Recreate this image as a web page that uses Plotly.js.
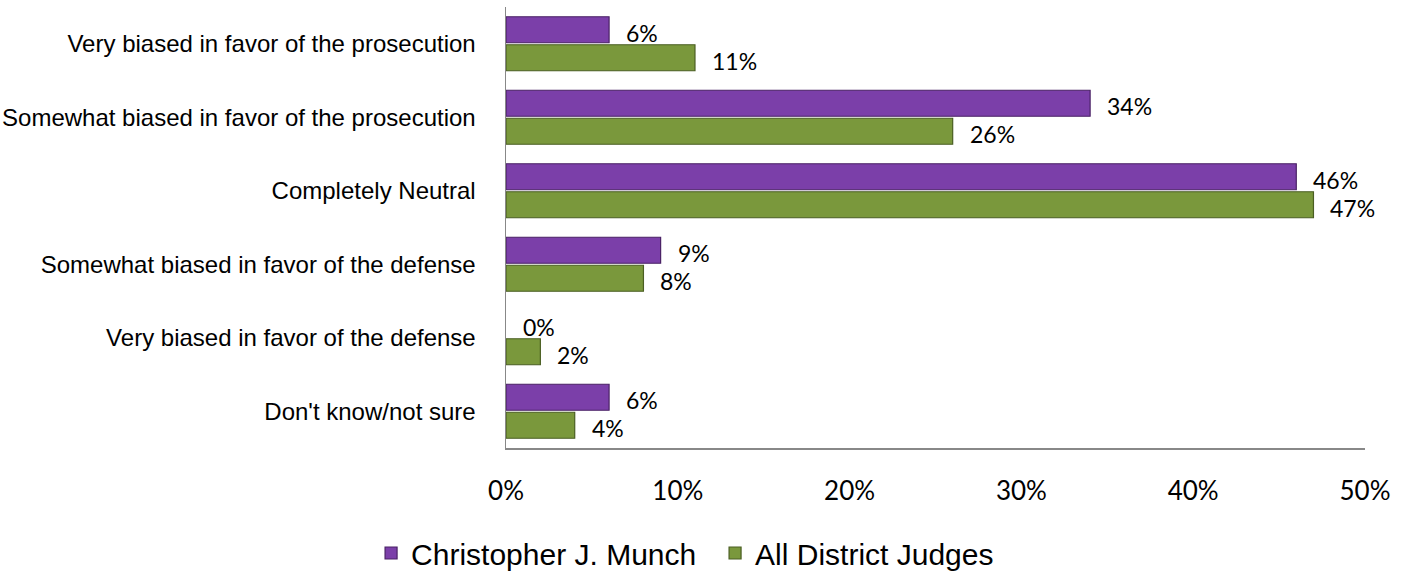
<!DOCTYPE html>
<html>
<head>
<meta charset="utf-8">
<script src="https://cdn.plot.ly/plotly-3.0.1.min.js"></script>
<style>html,body{margin:0;padding:0;background:#fff;}#chart{width:1409px;height:575px;}</style>
</head>
<body>
<div id="chart"></div>
<script>
const categories = [
  "Very biased in favor of the prosecution",
  "Somewhat biased in favor of the prosecution",
  "Completely Neutral",
  "Somewhat biased in favor of the defense",
  "Very biased in favor of the defense",
  "Don't know/not sure"
];
const seriesNames = ["Christopher J. Munch", "All District Judges"];
const munch = [6, 34, 46, 9, 0, 6];
const allJudges = [11, 26, 47, 8, 2, 4];
const xTickVals = [0, 10, 20, 30, 40, 50];
const xTickText = ["0%", "10%", "20%", "30%", "40%", "50%"];

const purple = "#7b3fa9", purpleLine = "#4a2266";
const green = "#7a983c", greenLine = "#4a5e22";

function lineWidths(vals) { return vals.map(v => v === 0 ? 0 : 1.2); }

const traces = [
  {type: "bar", orientation: "h", name: seriesNames[0], y: categories, x: munch,
   marker: {color: purple, line: {color: purpleLine, width: lineWidths(munch)}}, hoverinfo: "x+y"},
  {type: "bar", orientation: "h", name: seriesNames[1], y: categories, x: allJudges,
   marker: {color: green, line: {color: greenLine, width: lineWidths(allJudges)}}, hoverinfo: "x+y"}
];

const annotations = [];
const offsets = [-0.19, 0.19];
[munch, allJudges].forEach((vals, s) => {
  vals.forEach((v, i) => {
    annotations.push({
      x: v, y: i + offsets[s], xref: "x", yref: "y",
      text: v + "%", showarrow: false, xanchor: "left", yanchor: "middle",
      xshift: 15, yshift: -3,
      font: {family: "Lato, 'Open Sans', sans-serif", size: 23, color: "#000"}
    });
  });
});

const layout = {
  width: 1409, height: 575,
  margin: {l: 506, r: 44, t: 7, b: 127, pad: 0},
  paper_bgcolor: "#fff", plot_bgcolor: "#fff",
  barmode: "group", bargap: 0.238, bargroupgap: 0.07,
  showlegend: true,
  legend: {orientation: "h", xref: "container", yref: "container",
           x: 0.5075, xanchor: "center", y: 0.0383, yanchor: "middle",
           entrywidth: 299,
           font: {family: "'Liberation Sans', Arial, sans-serif", size: 30, color: "#000"},
           traceorder: "normal"},
  xaxis: {range: [0, 50], tickvals: xTickVals, ticktext: xTickText, showgrid: false, zeroline: false,
          showline: true, linecolor: "#888", linewidth: 1.5, ticks: "", ticklabelstandoff: 19,
          tickfont: {family: "Lato, 'Open Sans', sans-serif", size: 26, color: "#000"}, fixedrange: true},
  yaxis: {type: "category", autorange: "reversed", showgrid: false, zeroline: false,
          showline: true, linecolor: "#888", linewidth: 1.5, ticks: "", ticklabelstandoff: 24,
          tickfont: {family: "'Liberation Sans', Arial, sans-serif", size: 24, color: "#000"}, fixedrange: true},
  annotations: annotations
};

Plotly.newPlot("chart", traces, layout, {displayModeBar: false, staticPlot: true});
</script>
</body>
</html>
